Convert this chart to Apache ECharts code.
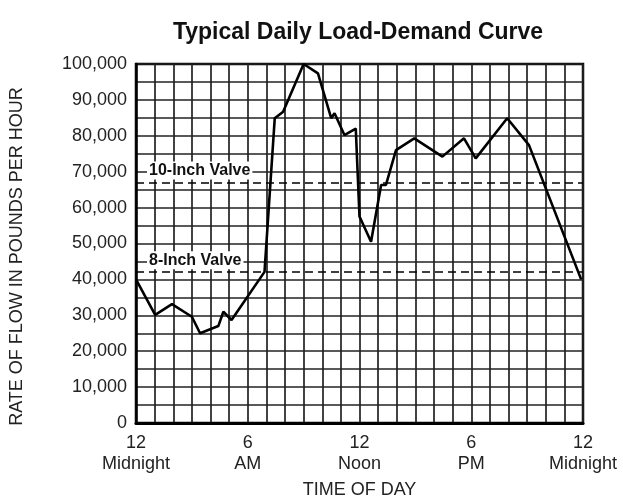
<!DOCTYPE html>
<html>
<head>
<meta charset="utf-8">
<script src="https://cdn.jsdelivr.net/npm/echarts@6/dist/echarts.min.js"></script>
<style>html,body{margin:0;padding:0;background:#fff}#c{width:623px;height:504px}</style>
</head>
<body>
<div id="c"></div>
<script>
const titleText = 'Typical Daily Load-Demand Curve';
const yAxisTitle = 'RATE OF FLOW IN POUNDS PER HOUR';
const xAxisTitle = 'TIME OF DAY';
const hours = [0, 1.03, 1.93, 3.0, 3.44, 4.42, 4.69, 5.13, 6.9, 7.45, 7.9, 9.0, 9.77, 10.48, 10.66, 11.19, 11.8, 12.0, 12.62, 13.16, 13.42, 13.96, 14.94, 16.45, 17.61, 18.24, 19.93, 21.1, 23.9];
const flow = [40000, 30100, 33100, 29600, 25000, 27000, 31000, 28700, 42100, 84900, 86700, 100000, 97400, 84900, 86300, 80200, 82000, 57500, 50500, 66300, 66300, 76000, 79300, 74200, 79300, 73700, 84900, 77400, 40000];
const xTickHours = [0, 6, 12, 18, 24];
const xTickLabels = ['12\nMidnight', '6\nAM', '12\nNoon', '6\nPM', '12\nMidnight'];
const valveNames = ['10-Inch Valve', '8-Inch Valve'];
const valveLimits = [67000, 42000];

const font = 'Liberation Sans, Arial, Helvetica, sans-serif';
const chart = echarts.init(document.getElementById('c'), null, {renderer: 'canvas'});
chart.setOption({
  backgroundColor: '#fff',
  animation: false,
  title: {
    text: titleText, left: 353, top: 16, textAlign: 'center',
    textStyle: {fontFamily: font, fontWeight: 'bold', fontSize: 23, color: '#111'}
  },
  grid: {left: 134, right: 40, top: 64, bottom: 81, show: true, borderColor: '#000', borderWidth: 2.5, backgroundColor: 'transparent'},
  xAxis: {
    type: 'value', min: 0, max: 24, interval: 1,
    name: xAxisTitle, nameLocation: 'middle', nameGap: 58,
    nameTextStyle: {fontFamily: font, fontSize: 18, color: '#222'},
    axisLine: {show: true, lineStyle: {color: '#000', width: 3}},
    axisTick: {show: false},
    splitLine: {show: true, lineStyle: {color: '#222', width: 1.7}},
    axisLabel: {
      fontFamily: font, fontSize: 18, color: '#222', lineHeight: 21, margin: 10,
      formatter: v => { const i = xTickHours.indexOf(v); return i >= 0 ? xTickLabels[i] : ''; }
    }
  },
  yAxis: {
    type: 'value', min: 0, max: 100000, interval: 5000,
    name: yAxisTitle, nameLocation: 'middle', nameGap: 110, nameRotate: 90,
    nameTextStyle: {fontFamily: font, fontSize: 18, color: '#222', padding: [0, 26, 0, 0]},
    axisLine: {show: true, lineStyle: {color: '#000', width: 2.5}},
    axisTick: {show: false},
    splitLine: {show: true, lineStyle: {color: '#222', width: 1.7}},
    axisLabel: {
      fontFamily: font, fontSize: 18, color: '#222', margin: 9,
      formatter: v => (v % 10000 === 0 ? v.toLocaleString('en-US') : '')
    }
  },
  series: [{
    type: 'line',
    data: hours.map((h, i) => [h, flow[i]]),
    symbol: 'none',
    lineStyle: {color: '#000', width: 2.6},
    z: 5,
    markLine: {
      silent: true, symbol: 'none',
      lineStyle: {color: '#000', width: 1.6, type: [8, 5]},
      label: {
        show: true, position: 'insideStartTop', distance: [11, 3],
        fontFamily: font, fontWeight: 'bold', fontSize: 16, color: '#111',
        backgroundColor: '#fff', padding: [1, 2],
        formatter: p => p.name
      },
      data: valveNames.map((n, i) => ({name: n, yAxis: valveLimits[i]}))
    }
  }]
});
</script>
</body>
</html>
